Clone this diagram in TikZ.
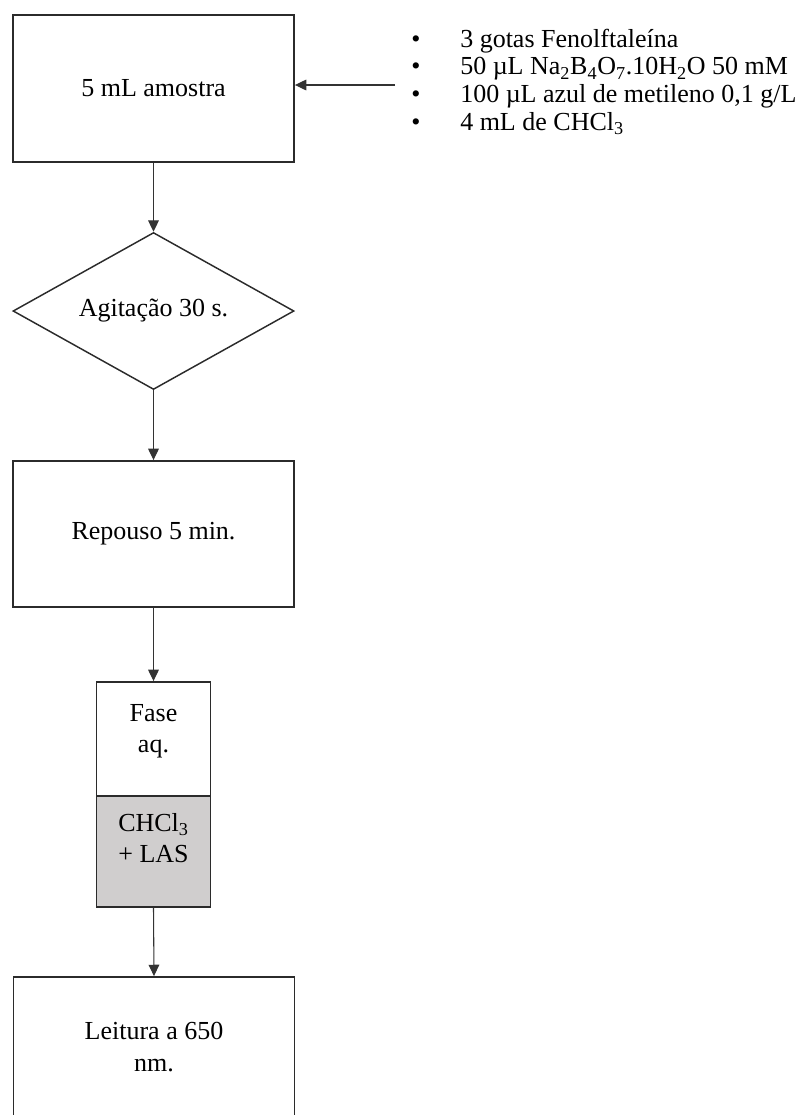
\documentclass[tikz,border=0pt]{standalone}
\usepackage{fontspec}
\setmainfont{Liberation Serif}
\usepackage{tikz}
\usetikzlibrary{arrows.meta,shapes.geometric}
\definecolor{edge}{HTML}{2B2B2B}
\definecolor{wire}{HTML}{333333}
\definecolor{phase}{HTML}{D0CECE}
\newdimen\pxu \pxu=0.75pt
\tikzset{>={Triangle[length=8.5pt,width=8pt]},
  stage/.style={draw=edge,line width=1.4pt,minimum width=281\pxu,inner sep=0pt},
  decide/.style={diamond,aspect=2.5,draw=edge,line width=1.1pt,minimum width=281\pxu,minimum height=157\pxu,inner sep=0pt},
  flow/.style={draw=wire,line width=0.8pt,->},
  txt/.style={align=center,inner sep=0pt}}

\begin{document}
\begin{tikzpicture}[x=0.75pt,y=-0.75pt,font=\fontsize{19.5}{23.5}\selectfont]
  \useasboundingbox (0,0) rectangle (803,1115);
  \clip (0,0) rectangle (803,1115);
  % etapas
  \node[stage,minimum height=147\pxu] (amostra) at (153.5,88.5) {5 mL amostra};
  \node[decide] (agita) at (153.5,311) {Agitação 30 s.};
  \node[stage,minimum height=146\pxu] (repouso) at (153.5,534) {Repouso 5 min.};
  \node[stage,minimum width=114\pxu,minimum height=114\pxu] (aquosa) at (153.5,739) {};
  \node[stage,fill=phase,minimum width=114\pxu,minimum height=111\pxu] (organica) at (153.5,851.5) {};
  \node[txt] (aquosaT) at (153.5,731) {Fase\\aq.};
  \node[txt] (organicaT) at (153.5,838) {CHCl\textsubscript{3}\\+ LAS};
  \node[stage,minimum height=220\pxu] (leitura) at (154,1087) {};
  \node[txt] (leituraT) at (154,1047) {Leitura a 650\\nm.};
  % reagentes
  \node[anchor=north west,inner sep=0pt,font=\fontsize{19.5}{20.7}\selectfont] (reagentes) at (411,27.7) {%
    \begin{tabular}{@{}l@{}l@{}}
      \makebox[49\pxu][l]{•} & 3 gotas Fenolftaleína\\
      \makebox[49\pxu][l]{•} & 50 µL Na\textsubscript{2}B\textsubscript{4}O\textsubscript{7}.10H\textsubscript{2}O 50 mM\\
      \makebox[49\pxu][l]{•} & 100 µL azul de metileno 0,1 g/L\\
      \makebox[49\pxu][l]{•} & 4 mL de CHCl\textsubscript{3}
    \end{tabular}};
  \coordinate (feed) at (395,85);
  % setas
  \draw[flow] (feed) -- (feed -| amostra.east);
  \draw[flow] (amostra.south) -- (agita.north);
  \draw[flow] (agita.south) -- (repouso.north);
  \draw[flow] (repouso.south) -- (aquosa.north);
  \draw[flow] (organica.south) -- (leitura.north);
\end{tikzpicture}
\end{document}
